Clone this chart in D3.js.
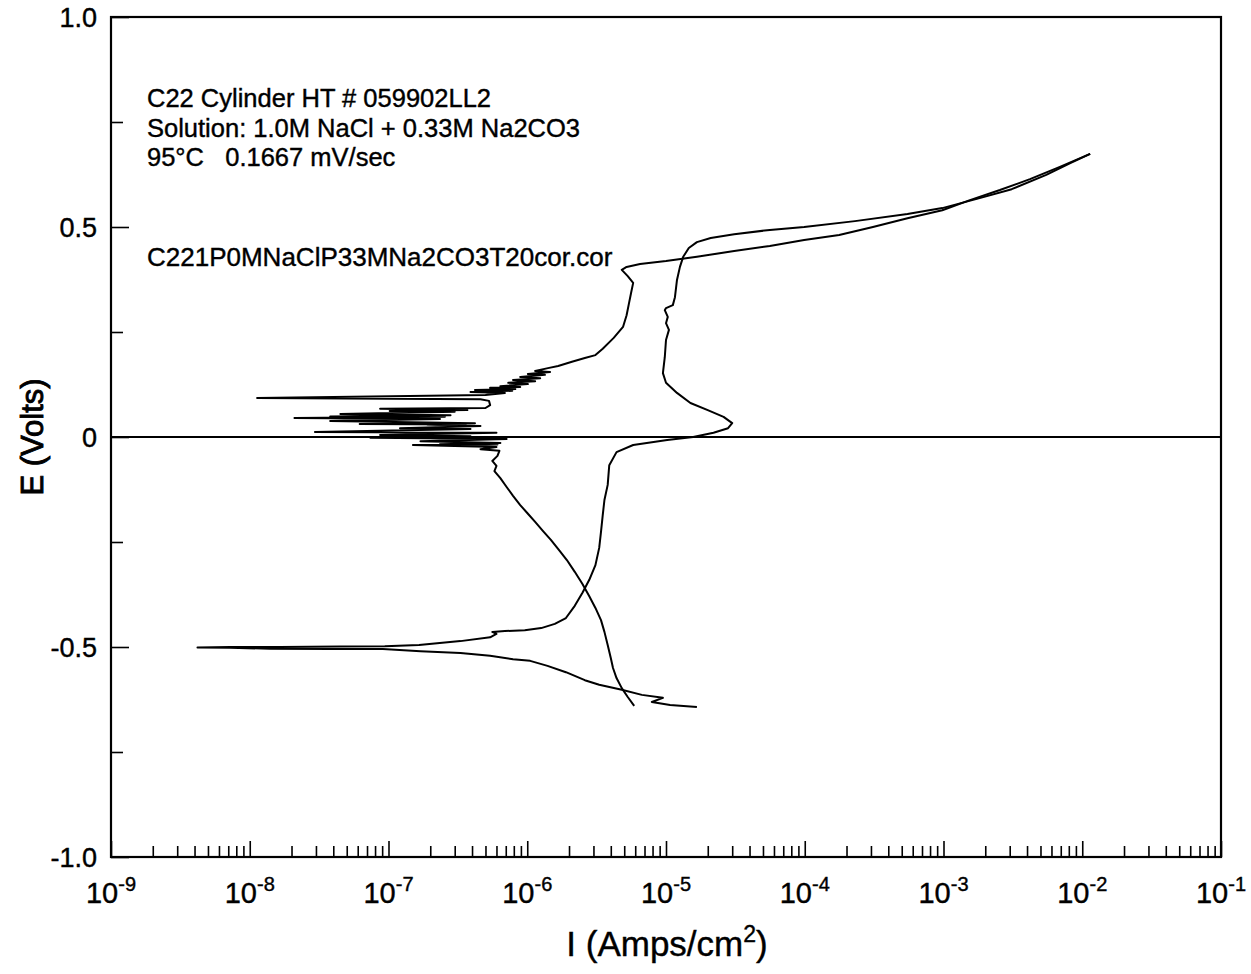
<!DOCTYPE html>
<html>
<head>
<meta charset="utf-8">
<script src="https://cdnjs.cloudflare.com/ajax/libs/d3/7.8.5/d3.min.js"></script>
<style>
  body { margin: 0; background: #fff; }
  svg text { font-family: "Liberation Sans", Arial, sans-serif; fill: #000; stroke: #000; stroke-width: 0.4px; }
</style>
</head>
<body>
<div id="chart"></div>
<script>
// forward scan: cathodic branch -> Ecorr spike -> passive -> transpassive
var fwdI = [1.67e-5, 1.07e-5, 7.9e-6, 9.5e-6, 6.7e-6, 4.8e-6, 3.3e-6, 2.6e-6, 1.9e-6, 1.4e-6,
            1.05e-6, 7.9e-7, 5.4e-7, 3.3e-7, 1.7e-7, 9.1e-8, 3.8e-8, 1.4e-8, 7.2e-9, 4.2e-9,
            7.2e-9, 1.65e-8, 4.5e-8, 9.4e-8, 1.66e-7, 3.3e-7, 5.4e-7, 6.0e-7, 5.6e-7, 6.9e-7,
            9.6e-7, 1.26e-6, 1.58e-6, 1.9e-6, 2.2e-6, 2.5e-6, 2.8e-6, 3.1e-6, 3.3e-6, 3.4e-6,
            3.5e-6, 3.6e-6, 3.8e-6, 3.9e-6, 4.4e-6, 5.8e-6, 1.02e-5, 1.57e-5, 2.2e-5, 2.8e-5,
            3.0e-5, 2.6e-5, 2.0e-5, 1.5e-5, 1.2e-5, 1.0e-5, 9.5e-6, 9.8e-6, 1.0e-5, 1.05e-5,
            1.0e-5, 1.03e-5, 9.8e-6, 1.0e-5, 1.12e-5, 1.16e-5, 1.2e-5, 1.26e-5, 1.33e-5, 1.46e-5,
            1.67e-5, 2.1e-5, 3.1e-5, 5.6e-5, 9.9e-5, 2.3e-4, 5.5e-4, 9.8e-4, 1.74e-3, 3.1e-3,
            5.5e-3, 8.2e-3, 1.14e-2];
var fwdE = [-0.643, -0.638, -0.631, -0.621, -0.614, -0.602, -0.590, -0.579, -0.560, -0.545,
            -0.533, -0.529, -0.521, -0.514, -0.510, -0.505, -0.505, -0.504, -0.502, -0.501,
            -0.500, -0.500, -0.499, -0.498, -0.495, -0.486, -0.477, -0.469, -0.464, -0.462,
            -0.460, -0.455, -0.445, -0.431, -0.402, -0.371, -0.340, -0.305, -0.264, -0.226,
            -0.186, -0.150, -0.114, -0.067, -0.036, -0.019, -0.007, 0.000, 0.010, 0.021,
            0.033, 0.048, 0.064, 0.081, 0.105, 0.129, 0.152, 0.190, 0.231, 0.255,
            0.271, 0.286, 0.302, 0.307, 0.314, 0.333, 0.374, 0.405, 0.429, 0.450,
            0.464, 0.474, 0.483, 0.493, 0.500, 0.514, 0.531, 0.545, 0.567, 0.590,
            0.624, 0.652, 0.674];

// reverse scan: back down from the vertex, noisy repassivation near 0 V
var revI = [1.14e-2, 6.9e-3, 4.2e-3, 2.55e-3, 1.55e-3, 9.8e-4, 5.5e-4, 3.1e-4, 1.77e-4, 9.9e-5,
            5.6e-5, 3.1e-5, 1.67e-5, 1.0e-5, 6.5e-6, 5.2e-6, 4.8e-6, 5.3e-6, 5.8e-6, 5.6e-6,
            5.4e-6, 5.2e-6, 4.9e-6, 4.2e-6, 3.5e-6, 3.1e-6, 2.6e-6, 2.1e-6, 1.67e-6,
            1.41e-6, 1.14e-6, 1.46e-6, 1.01e-6, 1.34e-6, 8.9e-7, 1.24e-6, 7.9e-7, 1.14e-6, 7.3e-7,
            1.01e-6, 6.4e-7, 8.9e-7, 5.4e-7, 8.2e-7, 4.2e-7, 7.8e-7, 3.9e-7, 6.9e-7, 5.0e-7,
            1.13e-8, 4.6e-7, 5.3e-7, 5.4e-7, 5.0e-7, 8.7e-8, 3.7e-7, 1.02e-7, 3.0e-7,
            4.5e-8, 2.8e-7, 3.8e-8, 2.55e-7, 2.1e-8, 2.35e-7, 3.8e-8, 4.2e-7, 6.2e-8, 3.6e-7,
            1.9e-7, 4.6e-7, 1.21e-7, 3.9e-7,
            2.95e-8, 6.0e-7, 8.7e-8, 3.9e-7, 1.21e-7, 5.3e-7, 7.4e-8, 7.1e-7, 1.7e-7, 6.4e-7,
            2.35e-7, 6.1e-7, 1.5e-7, 6.0e-7,
            4.6e-7, 6.3e-7, 6.1e-7, 5.6e-7, 6.0e-7, 5.8e-7, 6.4e-7, 7.1e-7, 7.9e-7, 8.9e-7,
            1.0e-6, 1.14e-6, 1.30e-6, 1.48e-6, 1.69e-6, 1.93e-6, 2.2e-6, 2.5e-6, 2.8e-6, 3.1e-6,
            3.4e-6, 3.6e-6, 3.8e-6, 4.0e-6, 4.15e-6, 4.4e-6, 4.8e-6, 5.3e-6, 5.9e-6];
var revE = [0.674, 0.643, 0.614, 0.588, 0.564, 0.540, 0.521, 0.500, 0.481, 0.469,
            0.455, 0.443, 0.429, 0.419, 0.412, 0.405, 0.398, 0.383, 0.367, 0.343,
            0.317, 0.290, 0.262, 0.236, 0.210, 0.195, 0.188, 0.179, 0.169,
            0.164, 0.157, 0.155, 0.150, 0.148, 0.143, 0.140, 0.136, 0.133, 0.129,
            0.126, 0.121, 0.119, 0.117, 0.114, 0.112, 0.110, 0.107, 0.105, 0.100,
            0.093, 0.090, 0.086, 0.076, 0.069, 0.067, 0.064, 0.062, 0.060,
            0.055, 0.052, 0.049, 0.048, 0.045, 0.043, 0.038, 0.033, 0.031, 0.030,
            0.029, 0.026, 0.021, 0.019,
            0.012, 0.010, 0.005, 0.002, 0.000, -0.001, -0.002, -0.005, -0.010, -0.014,
            -0.017, -0.018, -0.019, -0.024,
            -0.029, -0.033, -0.045, -0.057, -0.069, -0.081, -0.098, -0.119, -0.140, -0.162,
            -0.181, -0.202, -0.224, -0.245, -0.269, -0.293, -0.321, -0.350, -0.379, -0.407,
            -0.436, -0.464, -0.495, -0.526, -0.550, -0.574, -0.598, -0.619, -0.640];

// axis ticks and labels
var xMajor = [1e-9, 1e-8, 1e-7, 1e-6, 1e-5, 1e-4, 1e-3, 1e-2, 1e-1];
var xExp = ["-9", "-8", "-7", "-6", "-5", "-4", "-3", "-2", "-1"];
var yMajor = [1.0, 0.5, 0, -0.5, -1.0];
var yLabels = ["1.0", "0.5", "0", "-0.5", "-1.0"];
var yMinor = [0.75, 0.25, -0.25, -0.75];

// annotations
var notes = ["C22 Cylinder HT # 059902LL2",
             "Solution: 1.0M NaCl + 0.33M Na2CO3",
             "95\u00B0C   0.1667 mV/sec"];
var fileName = "C221P0MNaClP33MNa2CO3T20cor.cor";

var width = 1251, height = 974;
// plot box ("top" is a window global, so other names)
var pLeft = 111, pRight = 1221, pTop = 17, pBottom = 857;

var svg = d3.select("#chart").append("svg")
  .attr("width", width)
  .attr("height", height);

var xScale = d3.scaleLog().domain([1e-9, 1e-1]).range([pLeft, pRight]);
var yScale = d3.scaleLinear().domain([-1, 1]).range([pBottom, pTop]);

// minor ticks (2..9 per decade) and major ticks, pointing inward
var xMinor = xScale.ticks().filter(function(t) {
  return xMajor.every(function(m) { return Math.abs(t / m - 1) > 1e-6; });
});

function drawAxis(gen, tx, ty) {
  var g = svg.append("g").attr("transform", "translate(" + tx + "," + ty + ")").call(gen);
  g.select(".domain").remove();
  g.selectAll("line").attr("stroke", "#000").attr("stroke-width", 1.6);
  g.selectAll("text").remove();
  return g;
}
drawAxis(d3.axisBottom(xScale).tickValues(xMinor).tickSize(-11), 0, pBottom);
drawAxis(d3.axisBottom(xScale).tickValues(xMajor).tickSize(-16), 0, pBottom);
drawAxis(d3.axisLeft(yScale).tickValues(yMinor).tickSize(-12), pLeft, 0);
drawAxis(d3.axisLeft(yScale).tickValues(yMajor).tickSize(-18), pLeft, 0);

// frame
svg.append("rect")
  .attr("x", pLeft).attr("y", pTop)
  .attr("width", pRight - pLeft).attr("height", pBottom - pTop)
  .attr("fill", "none").attr("stroke", "#000").attr("stroke-width", 2.2);

// x tick labels with superscript exponents
var xl = svg.append("g").selectAll("text")
  .data(xMajor)
  .join("text")
  .attr("x", function(d) { return xScale(d); })
  .attr("y", 903)
  .attr("text-anchor", "middle")
  .attr("font-size", 29);
xl.append("tspan").text("10");
xl.append("tspan")
  .attr("dy", -12)
  .attr("font-size", 20)
  .text(function(d, i) { return xExp[i]; });

// y tick labels
svg.append("g").selectAll("text")
  .data(yMajor)
  .join("text")
  .attr("x", 97)
  .attr("y", function(d) { return yScale(d); })
  .attr("dy", "0.36em")
  .attr("text-anchor", "end")
  .attr("font-size", 27)
  .text(function(d, i) { return yLabels[i]; });

// axis titles
var xt = svg.append("text")
  .attr("x", 667)
  .attr("y", 956)
  .attr("text-anchor", "middle")
  .attr("font-size", 35);
xt.append("tspan").text("I (Amps/cm");
xt.append("tspan").attr("dy", -14).attr("font-size", 23).text("2");
xt.append("tspan").attr("dy", 14).text(")");

svg.append("text")
  .attr("transform", "rotate(-90)")
  .attr("x", -(pTop + pBottom) / 2)
  .attr("y", 43)
  .attr("text-anchor", "middle")
  .attr("font-size", 31)
  .style("stroke-width", "0.9px")
  .text("E (Volts)");

// zero potential reference line
svg.append("line")
  .attr("x1", pLeft).attr("x2", pRight)
  .attr("y1", yScale(0)).attr("y2", yScale(0))
  .attr("stroke", "#000").attr("stroke-width", 1.8);

// curves
var line = d3.line()
  .x(function(d) { return xScale(d[0]); })
  .y(function(d) { return yScale(d[1]); });

var fwd = fwdI.map(function(v, i) { return [v, fwdE[i]]; });
var rev = revI.map(function(v, i) { return [v, revE[i]]; });

svg.append("g").selectAll("path")
  .data([fwd, rev])
  .join("path")
  .attr("d", line)
  .attr("fill", "none")
  .attr("stroke", "#000")
  .attr("stroke-width", 2)
  .attr("stroke-linejoin", "round");

// notes
svg.append("g").selectAll("text")
  .data(notes)
  .join("text")
  .attr("x", 147)
  .attr("y", function(d, i) { return 107 + i * 29.5; })
  .attr("font-size", 25.5)
  .style("white-space", "pre")
  .text(function(d) { return d; });

svg.append("text")
  .attr("x", 147)
  .attr("y", 266)
  .attr("font-size", 26)
  .text(fileName);
</script>
</body>
</html>
